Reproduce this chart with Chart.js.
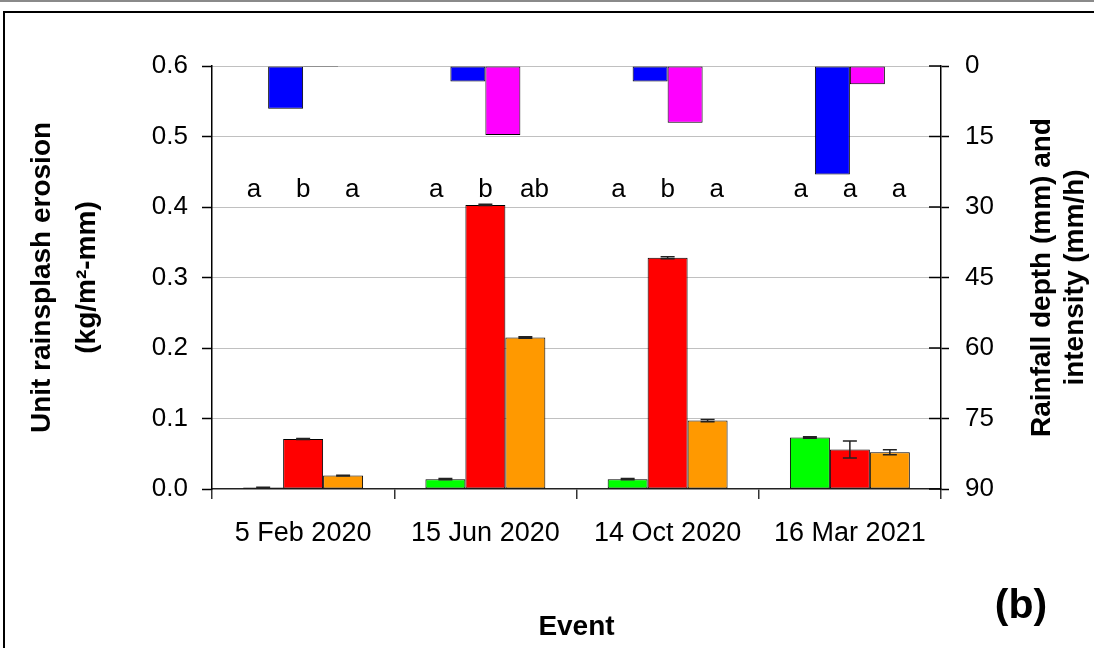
<!DOCTYPE html>
<html><head><meta charset="utf-8">
<script src="https://cdn.jsdelivr.net/npm/chart.js@4.4.0/dist/chart.umd.min.js"></script>
<style>html,body{margin:0;padding:0;background:#fff}#wrap{width:1094px;height:648px;position:relative}canvas{display:block}</style>
</head><body><div id="wrap"><canvas id="c" width="1094" height="648"></canvas></div>
<script>
// ---- data ----
const events = ['5 Feb 2020', '15 Jun 2020', '14 Oct 2020', '16 Mar 2021'];
const erosionGreen  = [0.002, 0.014, 0.014, 0.073];
const erosionRed    = [0.071, 0.403, 0.328, 0.056];
const erosionOrange = [0.019, 0.215, 0.097, 0.052];
const errGreen  = [0.0006, 0.001, 0.001, 0.001];
const errRed    = [0.0008, 0.001, 0.0015, 0.012];
const errOrange = [0.0006, 0.001, 0.0015, 0.0035];
const rainDepth     = [9.1, 3.3, 3.3, 23.1];
const rainIntensity = [0.2, 14.7, 12.1, 3.9];
const sigLetters = [['a','b','a'], ['a','b','ab'], ['a','b','a'], ['a','a','a']];
const leftTitle = ['Unit rainsplash erosion', '(kg/m\u00B2-mm)'];
const rightTitle = ['Rainfall depth (mm) and', 'intensity (mm/h)'];
const xTitle = 'Event';
const panelTag = '(b)';

const FONT = "'Liberation Sans', Arial, Helvetica, sans-serif";
Chart.defaults.font.family = FONT;
Chart.defaults.color = '#000';

const frame = {
  id: 'frame',
  beforeDraw(chart) {
    const c = chart.ctx;
    c.save();
    c.fillStyle = '#fff';
    c.fillRect(0, 0, chart.width, chart.height);
    c.strokeStyle = '#8a8a8a'; c.lineWidth = 2;
    c.beginPath(); c.moveTo(0, 1); c.lineTo(chart.width, 1); c.stroke();
    c.strokeStyle = '#000'; c.lineWidth = 2;
    c.beginPath(); c.moveTo(4, chart.height); c.lineTo(4, 12); c.lineTo(chart.width, 12); c.stroke();
    c.restore();
  }
};

const extras = {
  id: 'extras',
  afterDatasetsDraw(chart) {
    const c = chart.ctx;
    // error bars
    chart.data.datasets.forEach((ds, i) => {
      if (!ds.errors) return;
      const meta = chart.getDatasetMeta(i);
      const ys = chart.scales[ds.yAxisID];
      meta.data.forEach((bar, j) => {
        const v = ds.data[j], e = ds.errors[j];
        const y1 = ys.getPixelForValue(v + e), y2 = ys.getPixelForValue(v - e);
        const x = bar.x, w = 7;
        c.save();
        c.strokeStyle = '#222'; c.lineWidth = 1.5;
        c.beginPath();
        c.moveTo(x, y1); c.lineTo(x, y2);
        c.moveTo(x - w, y1); c.lineTo(x + w, y1);
        c.moveTo(x - w, y2); c.lineTo(x + w, y2);
        c.stroke();
        c.restore();
      });
    });
  },
  afterDraw(chart) {
    const c = chart.ctx;
    const xs = chart.scales.x, ys = chart.scales.y, yr = chart.scales.y1;
    const ca = chart.chartArea;
    // significance letters
    const cw = ca.width / events.length;
    c.save();
    c.fillStyle = '#000';
    c.font = '26px ' + FONT;
    c.textAlign = 'center'; c.textBaseline = 'alphabetic';
    sigLetters.forEach((grp, i) => {
      grp.forEach((t, k) => {
        const x = xs.getPixelForValue(i) + (k - 1) * 0.27 * cw;
        c.fillText(t, x, ys.getPixelForValue(0.414));
      });
    });
    // inner halves of right-axis ticks
    c.strokeStyle = '#000'; c.lineWidth = 1.5;
    yr.ticks.forEach(t => {
      const y = yr.getPixelForValue(t.value);
      c.beginPath(); c.moveTo(ca.right - 12, y); c.lineTo(ca.right, y); c.stroke();
    });
    // right axis title (reads bottom-to-top)
    c.font = 'bold 28px ' + FONT;
    c.textBaseline = 'middle';
    c.translate(1042, (ca.top + ca.bottom) / 2);
    c.rotate(-Math.PI / 2);
    rightTitle.forEach((t, i) => c.fillText(t, 0, i * 33));
    c.restore();
    // panel tag
    c.save();
    c.fillStyle = '#000';
    c.font = 'bold 41px ' + FONT;
    c.textAlign = 'center'; c.textBaseline = 'middle';
    c.fillText(panelTag, 1021, 607);
    c.restore();
  }
};

const barCommon = { borderColor: '#000', borderWidth: 1, borderSkipped: false };
// erosion bars: 3 slots; rainfall bars share outer slots (A, C) on their own value axis
const erosionLayout = { xAxisID: 'x', yAxisID: 'y', categoryPercentage: 0.658, barPercentage: 1 };
const rainLayout = { xAxisID: 'x', yAxisID: 'y1', categoryPercentage: 0.288, barPercentage: 2 };

new Chart(document.getElementById('c'), {
  type: 'bar',
  data: {
    labels: events,
    datasets: [
      Object.assign({ label: 'Treatment 1', data: erosionGreen, errors: errGreen, backgroundColor: '#00ff00', stack: 'A' }, erosionLayout, barCommon),
      Object.assign({ label: 'Treatment 2', data: erosionRed, errors: errRed, backgroundColor: '#ff0000', stack: 'B' }, erosionLayout, barCommon),
      Object.assign({ label: 'Treatment 3', data: erosionOrange, errors: errOrange, backgroundColor: '#ff9900', stack: 'C' }, erosionLayout, barCommon),
      Object.assign({ label: 'Rainfall depth', data: rainDepth, backgroundColor: '#0000ff', stack: 'A' }, rainLayout, barCommon),
      Object.assign({ label: 'Rainfall intensity', data: rainIntensity, backgroundColor: '#ff00ff', stack: 'C' }, rainLayout, barCommon)
    ]
  },
  options: {
    responsive: false,
    animation: false,
    devicePixelRatio: 1,
    layout: { padding: { top: 66, left: 0, right: 0, bottom: 0 } },
    plugins: { legend: { display: false }, tooltip: { enabled: false } },
    scales: {
      x: {
        type: 'category', offset: true, position: 'bottom',
        grid: { offset: true, drawOnChartArea: false, drawTicks: true, tickLength: 10, color: '#333', lineWidth: 1.5 },
        border: { display: true, color: '#222', width: 1.5 },
        ticks: { color: '#000', font: { size: 27 }, padding: 18, maxRotation: 0, autoSkip: false },
        title: { display: true, text: xTitle, color: '#000', font: { size: 28, weight: 'bold', lineHeight: 1.2 }, padding: { top: 0, bottom: 4 } },
        afterFit(s) { s.height = 159; }
      },
      y: {
        position: 'left', min: 0, max: 0.6,
        ticks: { stepSize: 0.1, callback: v => Number(v).toFixed(1), color: '#000', font: { size: 26 }, padding: 14 },
        grid: { color: ctx => (ctx.tick && ctx.tick.value === 0) ? 'rgba(0,0,0,0)' : '#808080', lineWidth: 1, tickColor: '#000', tickLength: 10, tickWidth: 1.5 },
        border: { display: true, color: '#000', width: 1.5, dash: [1, 1] },
        title: { display: true, text: leftTitle, color: '#000', font: { size: 28, weight: 'bold', lineHeight: 1.6 }, padding: { top: 20, bottom: 0 } },
        afterFit(s) { s.width = 212; }
      },
      y1: {
        position: 'right', min: 0, max: 90, reverse: true,
        ticks: { stepSize: 15, color: '#000', font: { size: 26 }, padding: 16 },
        grid: { drawOnChartArea: false, tickLength: 8, color: '#000', tickWidth: 1.5 },
        border: { display: true, color: '#000', width: 1.5 },
        afterFit(s) { s.width = 153; }
      }
    }
  },
  plugins: [frame, extras]
});
</script>
</body></html>
